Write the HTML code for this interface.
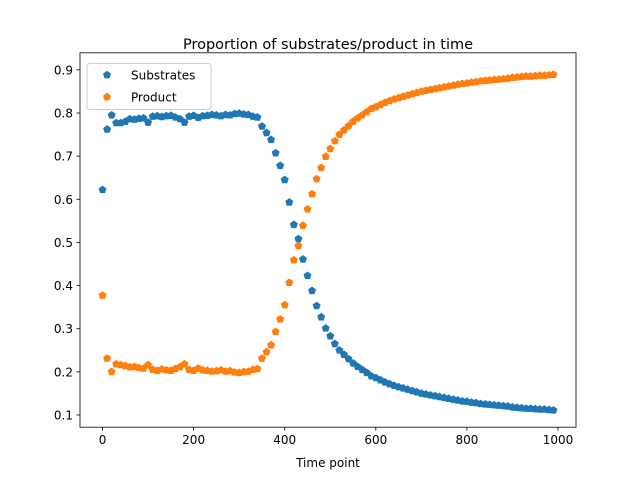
<!DOCTYPE html>
<html><head><meta charset="utf-8"><style>
body{margin:0;background:#fff;font-family:"Liberation Sans","DejaVu Sans",sans-serif}
svg text{font-family:"DejaVu Sans","Liberation Sans",sans-serif;fill:#000}
</style></head><body>
<svg id="c" width="640" height="480" xmlns="http://www.w3.org/2000/svg"></svg>
<script>
const timePoints=[0,10,20,30,40,50,60,70,80,90,100,110,120,130,140,150,160,170,180,190,200,210,220,230,240,250,260,270,280,290,300,310,320,330,340,350,360,370,380,390,400,410,420,430,440,450,460,470,480,490,500,510,520,530,540,550,560,570,580,590,600,610,620,630,640,650,660,670,680,690,700,710,720,730,740,750,760,770,780,790,800,810,820,830,840,850,860,870,880,890,900,910,920,930,940,950,960,970,980,990];
const substrates=[0.622,0.762,0.795,0.777,0.777,0.780,0.786,0.785,0.787,0.788,0.778,0.792,0.793,0.791,0.793,0.794,0.790,0.786,0.778,0.792,0.794,0.789,0.793,0.794,0.796,0.795,0.793,0.796,0.795,0.798,0.799,0.797,0.796,0.792,0.790,0.769,0.754,0.738,0.707,0.678,0.645,0.593,0.541,0.508,0.461,0.423,0.388,0.353,0.327,0.301,0.283,0.265,0.250,0.240,0.230,0.220,0.212,0.205,0.198,0.190,0.186,0.181,0.176,0.172,0.168,0.165,0.162,0.159,0.156,0.153,0.150,0.148,0.146,0.144,0.142,0.140,0.138,0.136,0.134,0.132,0.131,0.129,0.128,0.126,0.125,0.124,0.123,0.122,0.121,0.120,0.118,0.117,0.116,0.115,0.115,0.114,0.113,0.113,0.112,0.111];
const product=[0.377,0.231,0.200,0.218,0.216,0.214,0.211,0.212,0.209,0.208,0.216,0.205,0.203,0.206,0.204,0.203,0.207,0.211,0.218,0.205,0.203,0.208,0.204,0.203,0.201,0.202,0.204,0.201,0.202,0.199,0.198,0.200,0.201,0.205,0.207,0.231,0.246,0.262,0.293,0.322,0.355,0.407,0.459,0.492,0.539,0.577,0.612,0.647,0.673,0.699,0.717,0.735,0.750,0.760,0.770,0.780,0.788,0.795,0.802,0.810,0.814,0.819,0.824,0.828,0.832,0.835,0.838,0.841,0.844,0.847,0.850,0.852,0.854,0.856,0.858,0.860,0.862,0.864,0.866,0.868,0.869,0.871,0.872,0.874,0.875,0.876,0.877,0.878,0.879,0.880,0.882,0.883,0.884,0.885,0.885,0.886,0.887,0.887,0.888,0.889];
const xTicks=[0,200,400,600,800,1000];
const yTicks=[0.1,0.2,0.3,0.4,0.5,0.6,0.7,0.8,0.9];
const L=80,R=576,T=52.8,B=427.2;
const xMin=-49.5,xMax=1039.5,yMin=0.0717,yMax=0.9395;
const X=v=>L+(v-xMin)/(xMax-xMin)*(R-L);
const Y=v=>B-(v-yMin)/(yMax-yMin)*(B-T);
const svg=document.getElementById('c');const NS='http://www.w3.org/2000/svg';
function mk(t,a,p){const e=document.createElementNS(NS,t);for(const k in a)e.setAttribute(k,a[k]);(p||svg).appendChild(e);return e;}
function pent(cx,cy,r){let p=[];for(let i=0;i<5;i++){const a=-Math.PI/2+i*2*Math.PI/5;p.push((cx+r*Math.cos(a)).toFixed(2)+','+(cy+r*Math.sin(a)).toFixed(2));}return p.join(' ');}
const title=mk('text',{x:328,y:49,'text-anchor':'middle','font-size':14.5});title.textContent='Proportion of substrates/product in time';


xTicks.forEach(t=>{const x=X(t);mk('line',{x1:x,x2:x,y1:B,y2:B+3.5,stroke:'#000','stroke-width':0.8});const tx=mk('text',{x:x,y:B+17,'text-anchor':'middle','font-size':12});tx.textContent=t;

});
yTicks.forEach(t=>{const y=Y(t);mk('line',{x1:L-3.5,x2:L,y1:y,y2:y,stroke:'#000','stroke-width':0.8});const tx=mk('text',{x:L-7,y:y+4.5,'text-anchor':'end','font-size':12});tx.textContent=t.toFixed(1);

});
const xl=mk('text',{x:328,y:467,'text-anchor':'middle','font-size':12});xl.textContent='Time point';


function series(vals,color,name){const g=mk('g',{fill:color});


vals.forEach((v,i)=>{const p=mk('polygon',{points:pent(X(timePoints[i]),Y(v),4.2)},g);

});}
series(substrates,'#1f77b4','substrates-series');
series(product,'#ff7f0e','product-series');
const frame=mk('rect',{x:L,y:T,width:R-L,height:B-T,fill:'none',stroke:'#000','stroke-width':0.8});


const lg=mk('g',{});


mk('rect',{x:87,y:63.5,width:124,height:46,rx:3,fill:'#fff','fill-opacity':0.8,stroke:'#ccc'},lg);
[['Substrates','#1f77b4',75],['Product','#ff7f0e',97]].forEach(([n,c,y])=>{mk('polygon',{points:pent(107,y,4.2),fill:c},lg);const t=mk('text',{x:131,y:y+4.5,'font-size':12},lg);t.textContent=n;

});
</script>
</body></html>
